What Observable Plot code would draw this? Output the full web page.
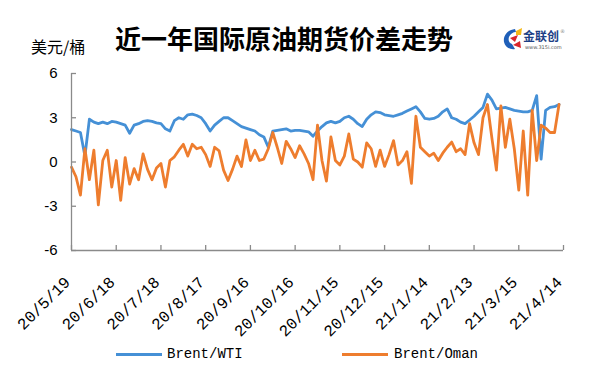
<!DOCTYPE html>
<html><head><meta charset="utf-8">
<script src="https://cdn.jsdelivr.net/npm/d3@7"></script>
<script src="https://cdn.jsdelivr.net/npm/@observablehq/plot@0.6"></script>
<style>
body{margin:0;background:#fff;}
#wrap{position:relative;width:600px;height:390px;overflow:hidden;font-family:"Noto Sans CJK SC",sans-serif;background:#fff;}
#header{position:relative;height:60px;}
#title{position:absolute;left:0;width:568px;text-align:center;top:25px;font-size:26px;line-height:26px;font-weight:700;color:#000;white-space:nowrap;}
#unit{position:absolute;left:31px;top:38px;font-size:16px;line-height:16px;color:#000;}
#logo{position:absolute;left:501px;top:26px;}
#chart{height:270px;}
#legend{position:relative;height:60px;font-family:"Liberation Mono",monospace;font-size:14px;}
.sw{position:absolute;top:23px;height:3px;width:46px;}
.lt{position:absolute;top:15px;line-height:18px;color:#000;}
</style></head>
<body><div id="wrap">
<div id="header">
  <div id="unit">美元/桶</div>
  <div id="title">近一年国际原油期货价差走势</div>
  <svg id="logo" width="70" height="26" viewBox="0 0 70 26">
    <path d="M14 3 C6 4 2 10 3 16 C4 21 9 24 14 23 L11 18 C8 17 7 14 8 11 C9 8 12 6 15 6 Z" fill="#1f5fb8"/>
    <path d="M9 12 L17 9 L14 16 Z" fill="#d9262c"/>
    <path d="M15 5 L21 2 L20 9 L15 9 Z" fill="#f5b816"/>
    <path d="M12 19 L19 15 L20 22 Z" fill="#d9262c"/>
    <text x="22" y="15" font-size="12" font-weight="700" fill="#1d3f86" font-family="Noto Sans CJK SC">金联创</text>
    <text x="24" y="23" font-size="5" fill="#555" font-family="DejaVu Sans">www.315i.com</text>
    <text x="59" y="7" font-size="5" fill="#888" font-family="DejaVu Sans">®</text>
  </svg>
</div>
<div id="chart"></div>
<div id="legend">
  <div class="sw" style="left:116px;background:#4590d6"></div>
  <div class="lt" style="left:167px">Brent/WTI</div>
  <div class="sw" style="left:342px;background:#ee7d2e"></div>
  <div class="lt" style="left:394px">Brent/Oman</div>
</div>
</div>
<script>
// Brent/WTI spread (USD/bbl), one reading every 3 calendar days from 2020-05-19
const wti = [
 2.2,2.1,2.0,0.4,2.9,2.7,2.6,2.7,2.6,2.75,
 2.7,2.6,2.5,1.95,2.5,2.6,2.75,2.8,2.75,2.65,
 2.6,2.25,2.1,2.8,3.0,2.9,3.2,3.25,3.15,3.0,
 2.6,2.1,2.5,2.75,3.0,3.0,2.8,2.6,2.4,2.3,
 2.2,2.1,1.85,1.7,1.0,2.1,2.15,2.2,2.25,2.1,
 2.15,2.15,2.1,2.05,1.75,2.1,2.4,2.65,2.75,2.65,
 2.75,3.0,3.1,2.9,2.6,2.4,2.9,3.2,3.4,3.35,
 3.2,3.15,3.1,3.2,3.3,3.45,3.6,3.75,3.4,2.95,
 2.9,2.95,3.1,3.4,3.6,3.0,2.9,2.7,2.6,2.85,
 3.1,3.4,3.7,4.6,4.2,3.6,3.65,3.7,3.6,3.5,
 3.45,3.4,3.4,3.5,4.5,0.2,3.5,3.7,3.75,3.9
];
// Brent/Oman spread (USD/bbl)
const oman = [
 -0.35,-1.0,-2.25,0.9,-1.2,0.8,-2.9,0.1,0.8,-1.7,
 0.1,-2.6,0.3,-1.5,-0.45,-1.2,0.55,-0.5,-1.2,-0.4,
 -0.1,-1.7,0.1,0.35,0.8,1.2,0.4,1.2,0.9,1.0,
 0.5,-0.3,1.0,0.75,-0.55,-1.25,-0.5,0.4,-0.3,1.5,
 0.1,0.8,0.1,0.2,0.9,2.0,1.0,-0.1,1.4,0.9,
 0.3,1.1,0.55,-0.1,-1.2,2.5,0.1,-1.3,1.7,0.1,
 -0.2,0.4,1.9,0.2,0.0,-0.35,1.3,0.9,-0.3,0.8,
 -0.3,0.5,1.45,-0.2,0.1,0.7,-1.45,3.1,1.0,0.7,
 0.4,0.6,0.1,0.6,1.0,1.35,0.7,0.9,0.5,2.6,
 1.3,0.5,3.0,3.9,1.6,-0.55,3.8,1.0,2.9,0.9,
 -1.9,2.1,-2.25,3.5,0.1,2.5,2.3,2.0,2.0,3.9
];
const tickDateStrings = ["2020-05-19","2020-06-18","2020-07-18","2020-08-17","2020-09-16","2020-10-16","2020-11-15","2020-12-15","2021-01-14","2021-02-13","2021-03-15","2021-04-14"];
const tickLabels = ["20/5/19","20/6/18","20/7/18","20/8/17","20/9/16","20/10/16","20/11/15","20/12/15","21/1/14","21/2/13","21/3/15","21/4/14"];
const yTicks = [-6,-3,0,3,6];
const yTickLabels = ["-6","-3","0","3","6"];

const blue = "#4590d6", orange = "#ee7d2e", axisColor = "#8a8a8a";
const start = new Date(Date.UTC(2020,4,19));
const rows = wti.map((v,i)=>({date: d3.utcDay.offset(start, 3*i), wti: v, oman: oman[i]}));
const tickDates = tickDateStrings.map(s => new Date(s + "T00:00:00Z"));
const xLabel = new Map(tickDates.map((d,i)=>[+d, tickLabels[i]]));
const yLabel = new Map(yTicks.map((d,i)=>[d, yTickLabels[i]]));

const plot = Plot.plot({
  width: 600, height: 270,
  marginTop: 13, marginBottom: 80, marginLeft: 71, marginRight: 37,
  style: {fontFamily: "Liberation Mono", fontSize: "15px", color: "#000", background: "transparent", overflow: "visible"},
  x: {type: "utc", domain: [tickDates[0], tickDates[tickDates.length-1]]},
  y: {domain: [-6, 6]},
  marks: [
    Plot.line(rows, {x: "date", y: "wti", stroke: blue, strokeWidth: 2.8, strokeLinejoin: "round"}),
    Plot.line(rows, {x: "date", y: "oman", stroke: orange, strokeWidth: 2.8, strokeLinejoin: "round"}),
    Plot.ruleX([tickDates[0]], {stroke: axisColor, strokeWidth: 1.3}),
    Plot.ruleY([-6], {stroke: axisColor, strokeWidth: 1.3}),
    Plot.axisY(yTicks, {tickSize: 5, dx: 5, fill: "none", label: null, stroke: axisColor, strokeWidth: 1.3}),
    Plot.axisY(yTicks, {tickSize: 0, tickPadding: 14, label: null, fontFamily: "Liberation Sans", fontSize: 15, tickFormat: d => yLabel.get(d)}),
    Plot.axisX(tickDates, {tickSize: 5, dy: -5, fill: "none", label: null, stroke: axisColor, strokeWidth: 1.3}),
    Plot.axisX(tickDates, {tickSize: 0, tickPadding: 29, dx: -4, tickRotate: -45, label: null, fontSize: 16, fontWeight: 500, tickFormat: d => xLabel.get(+d)})
  ]
});
document.getElementById("chart").appendChild(plot);
</script>
</body></html>
